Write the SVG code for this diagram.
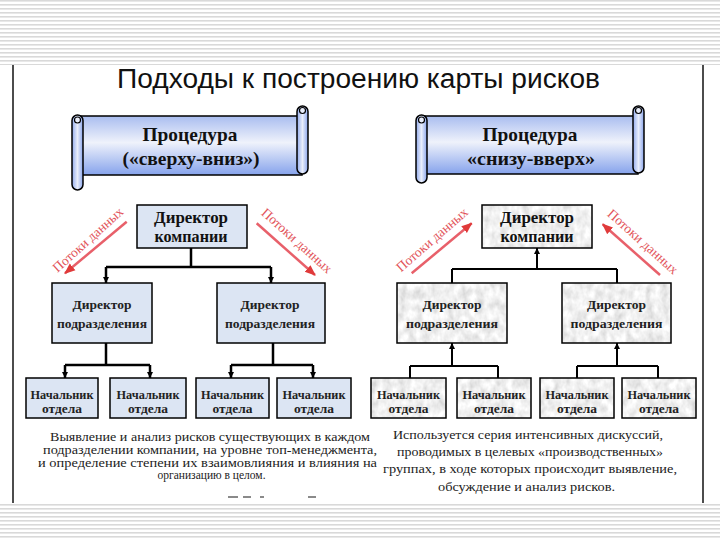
<svg xmlns="http://www.w3.org/2000/svg" width="720" height="540" viewBox="0 0 720 540">
<defs>
  <pattern id="stripes" width="8" height="4" patternUnits="userSpaceOnUse">
    <rect width="8" height="4" fill="#ffffff"/>
    <rect y="0" width="8" height="1.6" fill="#d9d9d9"/>
  </pattern>
  <linearGradient id="scrollV" x1="0" y1="0" x2="0" y2="1">
    <stop offset="0" stop-color="#a9bdf0"/>
    <stop offset="0.45" stop-color="#eff2fb"/>
    <stop offset="1" stop-color="#86a3ec"/>
  </linearGradient>
  <linearGradient id="rollH" x1="0" y1="0" x2="1" y2="0">
    <stop offset="0" stop-color="#93acee"/>
    <stop offset="0.5" stop-color="#e9eefb"/>
    <stop offset="1" stop-color="#8aa5ec"/>
  </linearGradient>
  <filter id="marble" x="0" y="0" width="100%" height="100%">
    <feTurbulence type="fractalNoise" baseFrequency="0.13 0.09" numOctaves="3" seed="5" result="t"/>
    <feColorMatrix in="t" type="matrix" values="0.55 0 0 0 0.6  0.55 0 0 0 0.6  0.55 0 0 0 0.6  0 0 0 0 1" result="g"/>
    <feComposite in="g" in2="SourceGraphic" operator="in"/>
  </filter>
  <marker id="ah" viewBox="0 0 6 6" refX="6" refY="3" markerWidth="6" markerHeight="6" markerUnits="userSpaceOnUse" orient="auto">
    <path d="M0,0 L6,3 L0,6 z" fill="#000"/>
  </marker>
  <marker id="rh" viewBox="0 0 10 10" refX="9" refY="5" markerWidth="11" markerHeight="11" markerUnits="userSpaceOnUse" orient="auto">
    <path d="M0,1 L10,5 L0,9 z" fill="#e03a3a"/>
  </marker>
</defs>
<style>
  .scroll { stroke:#000; stroke-width:1.5; }
  .boxL { fill:#dce5f3; stroke:#000; stroke-width:1.5; }
  .boxR { fill:none; stroke:#000; stroke-width:1.5; }
  .marb { fill:#ccc; filter:url(#marble); }
  .conn { fill:none; stroke:#000; stroke-width:2.5; }
  .connR { fill:none; stroke:#000; stroke-width:2; }
  .ttl { font-family:"Liberation Serif","Times New Roman",serif; font-weight:bold; font-size:19px; text-anchor:middle; fill:#111; }
  .dir { font-family:"Liberation Serif","Times New Roman",serif; font-weight:bold; font-size:16px; text-anchor:middle; fill:#111; }
  .sub { font-family:"Liberation Serif","Times New Roman",serif; font-weight:bold; font-size:13px; text-anchor:middle; fill:#222; }
  .nach { font-family:"Liberation Serif","Times New Roman",serif; font-weight:bold; font-size:12px; text-anchor:middle; fill:#222; }
  .para { font-family:"Liberation Serif","Times New Roman",serif; font-size:13px; text-anchor:middle; fill:#222; }
  .paraS { font-family:"Liberation Serif","Times New Roman",serif; font-size:11.5px; text-anchor:middle; fill:#222; }
  .flow { font-family:"Liberation Serif","Times New Roman",serif; font-size:13.5px; text-anchor:middle; fill:#e2545a; }
  .arr { fill:none; stroke:#e8606a; stroke-width:2.5; }
</style>

<!-- background -->
<rect x="0" y="0" width="720" height="540" fill="#ffffff"/>
<rect x="0" y="0" width="720" height="65" fill="url(#stripes)"/>
<rect x="0" y="504" width="720" height="36" fill="url(#stripes)"/>
<line x1="13" y1="65" x2="13" y2="503" stroke="#111" stroke-width="1.5"/>
<line x1="703" y1="65" x2="703" y2="503" stroke="#111" stroke-width="1.5"/>

<text x="358.5" y="88" font-family="Liberation Sans, Arial, sans-serif" font-size="27" fill="#111" text-anchor="middle" textLength="483" lengthAdjust="spacingAndGlyphs">Подходы к построению карты рисков</text>

<!-- left scroll -->
<g id="scroll-left">
  <rect class="scroll" x="78" y="116" width="224" height="59" fill="url(#scrollV)"/>
  <rect class="scroll" x="297" y="106" width="11" height="68" rx="5.5" fill="url(#rollH)"/>
  <rect class="scroll" x="72" y="115" width="11" height="75" rx="5.5" fill="url(#rollH)"/>
  <circle cx="77.5" cy="120" r="3" fill="#e9eefb" stroke="#000" stroke-width="1.2"/>
  <circle cx="302.5" cy="110.5" r="3" fill="#e9eefb" stroke="#000" stroke-width="1.2"/>
  <text class="ttl" x="190" y="141" textLength="95" lengthAdjust="spacingAndGlyphs">Процедура</text>
  <text class="ttl" x="191" y="165" textLength="137" lengthAdjust="spacingAndGlyphs">(«сверху-вниз»)</text>
</g>

<!-- right scroll -->
<g id="scroll-right">
  <rect class="scroll" x="422" y="116" width="216" height="58" fill="url(#scrollV)"/>
  <rect class="scroll" x="633" y="106" width="11" height="67" rx="5.5" fill="url(#rollH)"/>
  <rect class="scroll" x="416" y="115" width="11" height="68" rx="5.5" fill="url(#rollH)"/>
  <circle cx="421.5" cy="120" r="3" fill="#e9eefb" stroke="#000" stroke-width="1.2"/>
  <circle cx="638.5" cy="110.5" r="3" fill="#e9eefb" stroke="#000" stroke-width="1.2"/>
  <text class="ttl" x="530" y="141" textLength="95" lengthAdjust="spacingAndGlyphs">Процедура</text>
  <text class="ttl" x="531" y="165" textLength="128" lengthAdjust="spacingAndGlyphs">«снизу-вверх»</text>
</g>

<!-- connectors -->
<g id="connectors">
  <path class="conn" d="M191,248 V267 M106,267 H271"/>
  <path class="conn" d="M106,267 V283" marker-end="url(#ah)"/>
  <path class="conn" d="M271,267 V283" marker-end="url(#ah)"/>
  <path class="conn" d="M106,343 V365 M65,365 H150"/>
  <path class="conn" d="M65,365 V378" marker-end="url(#ah)"/>
  <path class="conn" d="M150,365 V378" marker-end="url(#ah)"/>
  <path class="conn" d="M273,343 V365 M231,365 H313"/>
  <path class="conn" d="M231,365 V378" marker-end="url(#ah)"/>
  <path class="conn" d="M313,365 V378" marker-end="url(#ah)"/>

  <path class="connR" d="M452,269 H617 M452,269 V283 M617,269 V283"/>
  <path class="connR" d="M537,269 V248" marker-end="url(#ah)"/>
  <path class="connR" d="M410,366 H498 M410,366 V378 M498,366 V378"/>
  <path class="connR" d="M452,366 V343" marker-end="url(#ah)"/>
  <path class="connR" d="M577,366 H658 M577,366 V378 M658,366 V378"/>
  <path class="connR" d="M617,366 V343" marker-end="url(#ah)"/>
</g>

<!-- data flow arrows -->
<g id="data-flows">
  <line class="arr" x1="126.7" y1="221.7" x2="65" y2="273.3" marker-end="url(#rh)"/>
  <text class="flow" transform="translate(91,243) rotate(-42)" textLength="90" lengthAdjust="spacingAndGlyphs">Потоки данных</text>
  <line class="arr" x1="256.7" y1="223.3" x2="315" y2="275" marker-end="url(#rh)"/>
  <text class="flow" transform="translate(294,244) rotate(42)" textLength="90" lengthAdjust="spacingAndGlyphs">Потоки данных</text>
  <line class="arr" x1="411.7" y1="273.3" x2="471.7" y2="223.3" marker-end="url(#rh)"/>
  <text class="flow" transform="translate(435,243) rotate(-41)" textLength="90" lengthAdjust="spacingAndGlyphs">Потоки данных</text>
  <line class="arr" x1="660" y1="275" x2="602.7" y2="224.3" marker-end="url(#rh)"/>
  <text class="flow" transform="translate(640,245) rotate(42)" textLength="90" lengthAdjust="spacingAndGlyphs">Потоки данных</text>
</g>

<!-- left tree nodes -->
<g id="L-director">
  <rect class="boxL" x="137" y="205" width="110" height="43"/>
  <text class="dir" x="191" y="223" textLength="74" lengthAdjust="spacingAndGlyphs">Директор</text>
  <text class="dir" x="191" y="242" textLength="73" lengthAdjust="spacingAndGlyphs">компании</text>
</g>
<g id="L-div1">
  <rect class="boxL" x="52" y="283" width="100" height="60"/>
  <text class="sub" x="102" y="309" textLength="59" lengthAdjust="spacingAndGlyphs">Директор</text>
  <text class="sub" x="102" y="328" textLength="90" lengthAdjust="spacingAndGlyphs">подразделения</text>
</g>
<g id="L-div2">
  <rect class="boxL" x="217" y="283" width="108" height="60"/>
  <text class="sub" x="270" y="309" textLength="59" lengthAdjust="spacingAndGlyphs">Директор</text>
  <text class="sub" x="270" y="328" textLength="90" lengthAdjust="spacingAndGlyphs">подразделения</text>
</g>
<g id="L-head1">
  <rect class="boxL" x="26" y="378" width="72" height="40"/>
  <text class="nach" x="62" y="399" textLength="63" lengthAdjust="spacingAndGlyphs">Начальник</text>
  <text class="nach" x="62" y="413" textLength="40" lengthAdjust="spacingAndGlyphs">отдела</text>
</g>
<g id="L-head2">
  <rect class="boxL" x="110" y="378" width="76" height="40"/>
  <text class="nach" x="148" y="399" textLength="63" lengthAdjust="spacingAndGlyphs">Начальник</text>
  <text class="nach" x="148" y="413" textLength="40" lengthAdjust="spacingAndGlyphs">отдела</text>
</g>
<g id="L-head3">
  <rect class="boxL" x="196" y="378" width="73" height="40"/>
  <text class="nach" x="232.5" y="399" textLength="63" lengthAdjust="spacingAndGlyphs">Начальник</text>
  <text class="nach" x="232.5" y="413" textLength="40" lengthAdjust="spacingAndGlyphs">отдела</text>
</g>
<g id="L-head4">
  <rect class="boxL" x="277" y="378" width="74" height="40"/>
  <text class="nach" x="314" y="399" textLength="63" lengthAdjust="spacingAndGlyphs">Начальник</text>
  <text class="nach" x="314" y="413" textLength="40" lengthAdjust="spacingAndGlyphs">отдела</text>
</g>

<!-- right tree nodes -->
<g id="R-director">
  <rect class="marb" x="482" y="205" width="110" height="43"/>
  <rect class="boxR" x="482" y="205" width="110" height="43"/>
  <text class="dir" x="537" y="223" textLength="74" lengthAdjust="spacingAndGlyphs">Директор</text>
  <text class="dir" x="537" y="242" textLength="73" lengthAdjust="spacingAndGlyphs">компании</text>
</g>
<g id="R-div1">
  <rect class="marb" x="397" y="283" width="110" height="60"/>
  <rect class="boxR" x="397" y="283" width="110" height="60"/>
  <text class="sub" x="452" y="309" textLength="59" lengthAdjust="spacingAndGlyphs">Директор</text>
  <text class="sub" x="452" y="328" textLength="92" lengthAdjust="spacingAndGlyphs">подразделения</text>
</g>
<g id="R-div2">
  <rect class="marb" x="562" y="283" width="109" height="60"/>
  <rect class="boxR" x="562" y="283" width="109" height="60"/>
  <text class="sub" x="616.5" y="309" textLength="59" lengthAdjust="spacingAndGlyphs">Директор</text>
  <text class="sub" x="616.5" y="328" textLength="92" lengthAdjust="spacingAndGlyphs">подразделения</text>
</g>
<g id="R-head1">
  <rect class="marb" x="371" y="378" width="75" height="40"/>
  <rect class="boxR" x="371" y="378" width="75" height="40"/>
  <text class="nach" x="408.5" y="399" textLength="63" lengthAdjust="spacingAndGlyphs">Начальник</text>
  <text class="nach" x="408.5" y="413" textLength="40" lengthAdjust="spacingAndGlyphs">отдела</text>
</g>
<g id="R-head2">
  <rect class="marb" x="457" y="378" width="74" height="40"/>
  <rect class="boxR" x="457" y="378" width="74" height="40"/>
  <text class="nach" x="494" y="399" textLength="63" lengthAdjust="spacingAndGlyphs">Начальник</text>
  <text class="nach" x="494" y="413" textLength="40" lengthAdjust="spacingAndGlyphs">отдела</text>
</g>
<g id="R-head3">
  <rect class="marb" x="540" y="378" width="74" height="40"/>
  <rect class="boxR" x="540" y="378" width="74" height="40"/>
  <text class="nach" x="577" y="399" textLength="63" lengthAdjust="spacingAndGlyphs">Начальник</text>
  <text class="nach" x="577" y="413" textLength="40" lengthAdjust="spacingAndGlyphs">отдела</text>
</g>
<g id="R-head4">
  <rect class="marb" x="622" y="378" width="74" height="40"/>
  <rect class="boxR" x="622" y="378" width="74" height="40"/>
  <text class="nach" x="659" y="399" textLength="63" lengthAdjust="spacingAndGlyphs">Начальник</text>
  <text class="nach" x="659" y="413" textLength="40" lengthAdjust="spacingAndGlyphs">отдела</text>
</g>

<!-- descriptions -->
<g id="desc-left">
  <text class="paraS" x="210" y="441" textLength="320" lengthAdjust="spacingAndGlyphs">Выявление и анализ рисков существующих в каждом</text>
  <text class="paraS" x="210" y="453.5" textLength="334" lengthAdjust="spacingAndGlyphs">подразделении компании, на уровне топ-менеджмента,</text>
  <text class="paraS" x="207.5" y="466.5" textLength="339" lengthAdjust="spacingAndGlyphs">и определение степени их взаимовлияния и влияния на</text>
  <text class="paraS" x="211.5" y="479">организацию в целом.</text>
</g>
<g id="desc-right">
  <text class="para" x="528" y="439" textLength="270" lengthAdjust="spacingAndGlyphs">Используется серия интенсивных дискуссий,</text>
  <text class="para" x="530" y="456" textLength="266" lengthAdjust="spacingAndGlyphs">проводимых в целевых «производственных»</text>
  <text class="para" x="530" y="473" textLength="294" lengthAdjust="spacingAndGlyphs">группах, в ходе которых происходит выявление,</text>
  <text class="para" x="526.5" y="491" textLength="177" lengthAdjust="spacingAndGlyphs">обсуждение и анализ рисков.</text>
</g>
<g id="cut-marks" fill="#8a8a8a">
  <rect x="228" y="496" width="10" height="2"/>
  <rect x="243" y="496" width="8" height="2"/>
  <rect x="260" y="496" width="4" height="2"/>
  <rect x="308" y="496" width="8" height="2"/>
</g>
</svg>
